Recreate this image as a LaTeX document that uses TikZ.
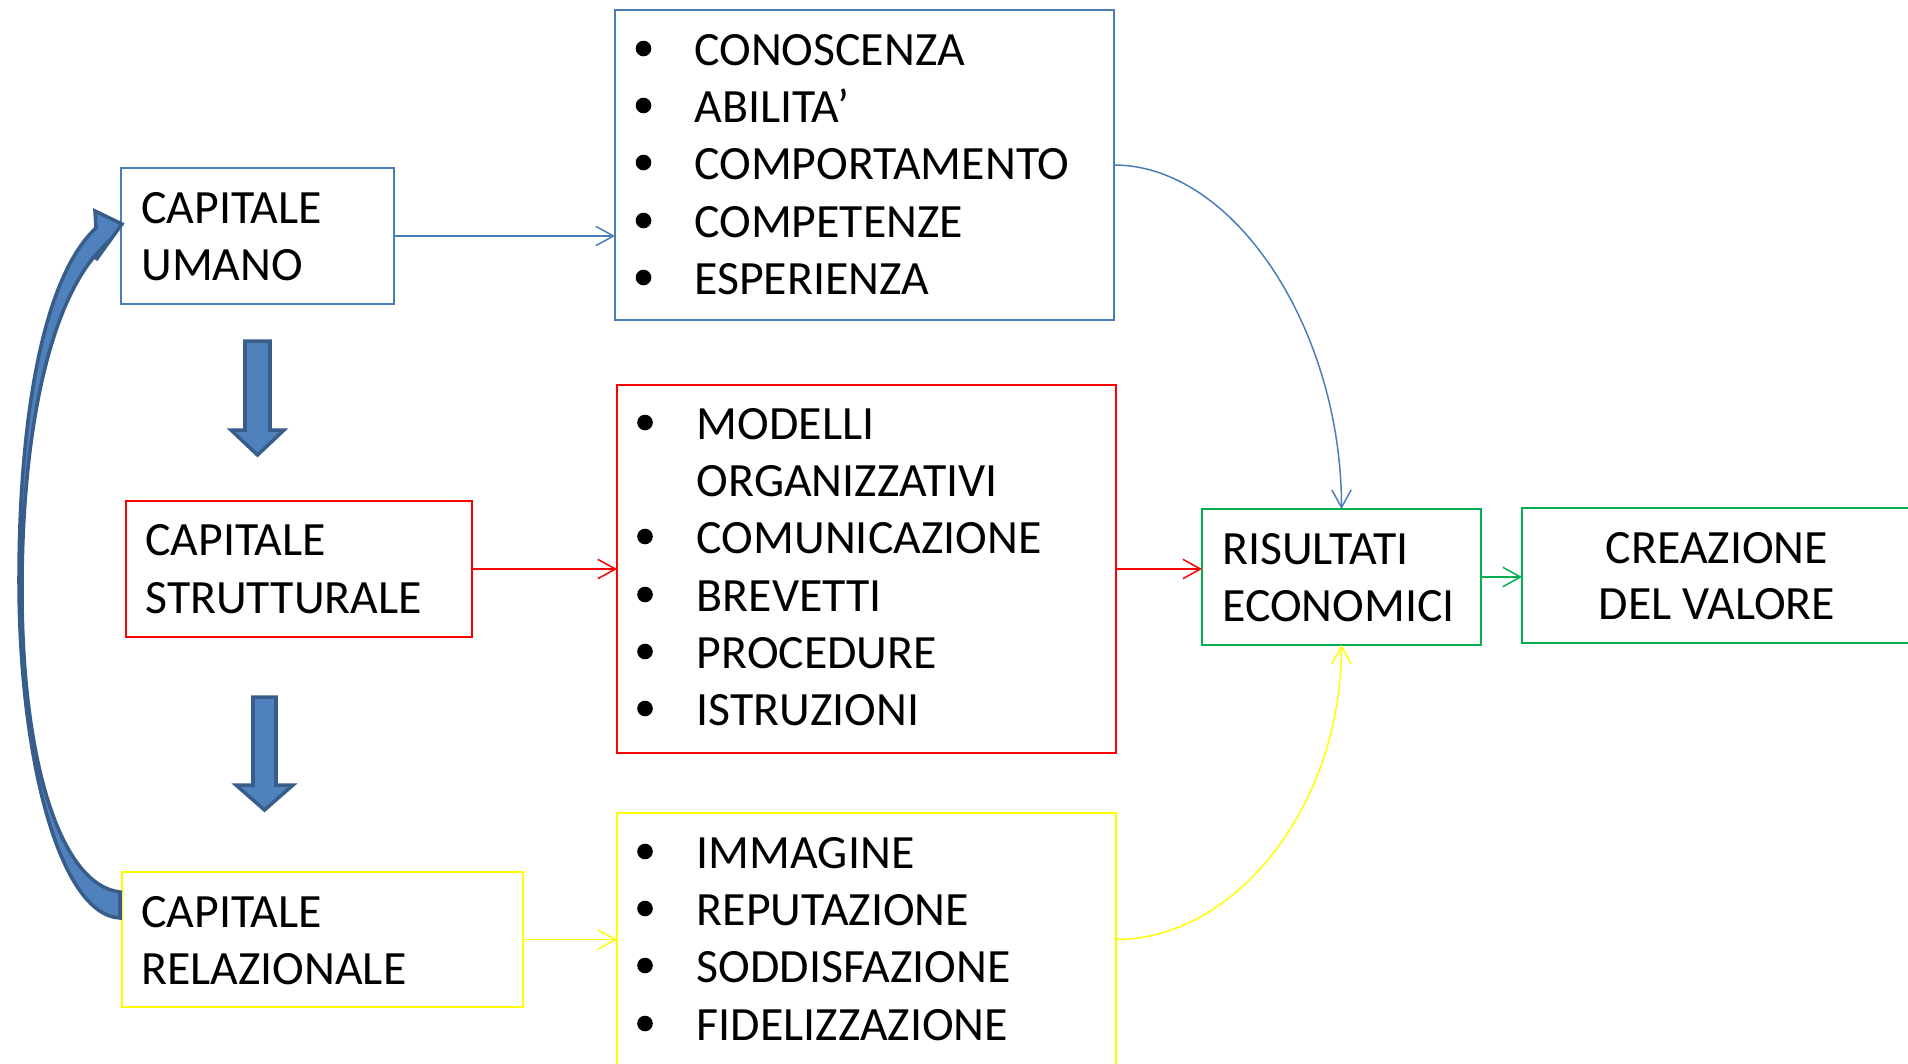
\documentclass[tikz,border=0pt]{standalone}
\usepackage{fontspec}
\setmainfont{Carlito}
\usetikzlibrary{arrows.meta}
\definecolor{bluebox}{HTML}{4A7EBB}
\definecolor{redbox}{HTML}{FF0000}
\definecolor{yelbox}{HTML}{FFFF00}
\definecolor{grnbox}{HTML}{00B050}
\definecolor{arrfill}{HTML}{4F81BD}
\definecolor{arrline}{HTML}{385D8A}
\newlength\pxu \setlength\pxu{0.02cm}
\begin{document}
\begin{tikzpicture}[x=0.02cm, y=-0.02cm,
  box/.style={draw=#1, line width=0.95pt, rectangle, inner sep=0pt, outer sep=0pt},
  lbl/.style={anchor=base west, inner sep=0pt, font=\fontsize{27.2}{32.4}\selectfont},
  clbl/.style={anchor=base, inner sep=0pt, font=\fontsize{27.2}{32.4}\selectfont},
  conn/.style={draw=#1, line width=0.85pt, -{Straight Barb[length=10pt,width=11pt]}},
  blockarrow/.style={fill=arrfill, draw=arrline, line width=2pt, line join=miter},
  bul/.style={fill=black},
]
\useasboundingbox (0,0) rectangle (1908,1063);
\clip (0,0) rectangle (1908,1063);
\fill[white] (0,0) rectangle (1908,1063);

% boxes
\node[box=bluebox, minimum width=273\pxu, minimum height=136\pxu] (umano) at (257.5,236) {};
\node[box=bluebox, minimum width=499\pxu, minimum height=310\pxu] (blist) at (864.5,165) {};
\node[box=redbox, minimum width=346\pxu, minimum height=136\pxu] (strut) at (299,569) {};
\node[box=redbox, minimum width=499\pxu, minimum height=368\pxu] (rlist) at (866.5,569) {};
\node[box=yelbox, minimum width=401\pxu, minimum height=135\pxu] (rel) at (322.5,939.5) {};
\node[box=yelbox, minimum width=499\pxu, minimum height=287\pxu] (ylist) at (866.5,956.5) {};
\node[box=grnbox, minimum width=279\pxu, minimum height=136\pxu] (ris) at (1341.5,577) {};
\node[box=grnbox, minimum width=408\pxu, minimum height=135\pxu] (crea) at (1726,575.5) {};

% box labels
\node[lbl] (t1a) at (141,223) {CAPITALE};
\node[lbl] (t1b) at (141,280) {UMANO};
\node[lbl] (t2a) at (145,555) {CAPITALE};
\node[lbl] (t2b) at (145,613) {STRUTTURALE};
\node[lbl] (t3a) at (141,927) {CAPITALE};
\node[lbl] (t3b) at (141,984) {RELAZIONALE};
\node[lbl] (t4a) at (1222,564) {RISULTATI};
\node[lbl] (t4b) at (1222,621) {ECONOMICI};
\node[clbl] (t5a) at (1717,563) {CREAZIONE};
\node[clbl] (t5b) at (1717,619) {DEL VALORE};

% blue list
\foreach \y/\t [count=\i] in {65/CONOSCENZA, 122/ABILITA’, 179/COMPORTAMENTO, 237/COMPETENZE, 294/ESPERIENZA}{
  \fill[bul] (643.5,\y-16.5) circle (7.8\pxu);
  \node[lbl] (b\i) at (694,\y) {\t};
}
% red list
\foreach \y/\t [count=\i] in {439/MODELLI, 553/COMUNICAZIONE, 611/BREVETTI, 668/PROCEDURE, 725/ISTRUZIONI}{
  \fill[bul] (645,\y-16.5) circle (7.8\pxu);
  \node[lbl] (r\i) at (696.5,\y) {\t};
}
\node[lbl] (r0) at (696.5,496) {ORGANIZZATIVI};
% yellow list
\foreach \y/\t [count=\i] in {868/IMMAGINE, 925/REPUTAZIONE, 982/SODDISFAZIONE, 1040/FIDELIZZAZIONE}{
  \fill[bul] (645,\y-16.5) circle (7.8\pxu);
  \node[lbl] (y\i) at (696.5,\y) {\t};
}

% connectors
\draw[conn=bluebox] (umano.east) -- (umano.east -| blist.west);
\draw[conn=redbox] (strut.east) -- (strut.east -| rlist.west);
\draw[conn=yelbox] (rel.east) -- (rel.east -| ylist.west);
\draw[conn=redbox] (rlist.east) -- (rlist.east -| ris.west);
\draw[conn=grnbox] (ris.east) -- (ris.east -| crea.west);
\draw[conn=bluebox] (blist.east) .. controls +(120,0) and +(0,-180) .. (ris.north);
\coordinate (yout) at (rel.east -| ylist.east);
\draw[conn=yelbox] (yout) .. controls +(120,0) and +(0,160) .. (ris.south);

% block arrows
\filldraw[blockarrow] (245,341) -- (270,341) -- (270,430) -- (284,430) -- (257.5,455) -- (231,430) -- (245,430) -- cycle;
\filldraw[blockarrow] (253,697) -- (276,697) -- (276,785) -- (293,785) -- (264.5,810) -- (236,785) -- (253,785) -- cycle;
\filldraw[blockarrow] (120,918) -- (120,892) .. controls (60,885) and (22,760) .. (22,590)
  .. controls (22,430) and (50,300) .. (102,248) -- (96,260) -- (122,224) -- (95,211) -- (96,228)
  .. controls (40,280) and (19,430) .. (19,580) .. controls (19,760) and (60,915) .. (120,918) -- cycle;
\end{tikzpicture}
\end{document}
